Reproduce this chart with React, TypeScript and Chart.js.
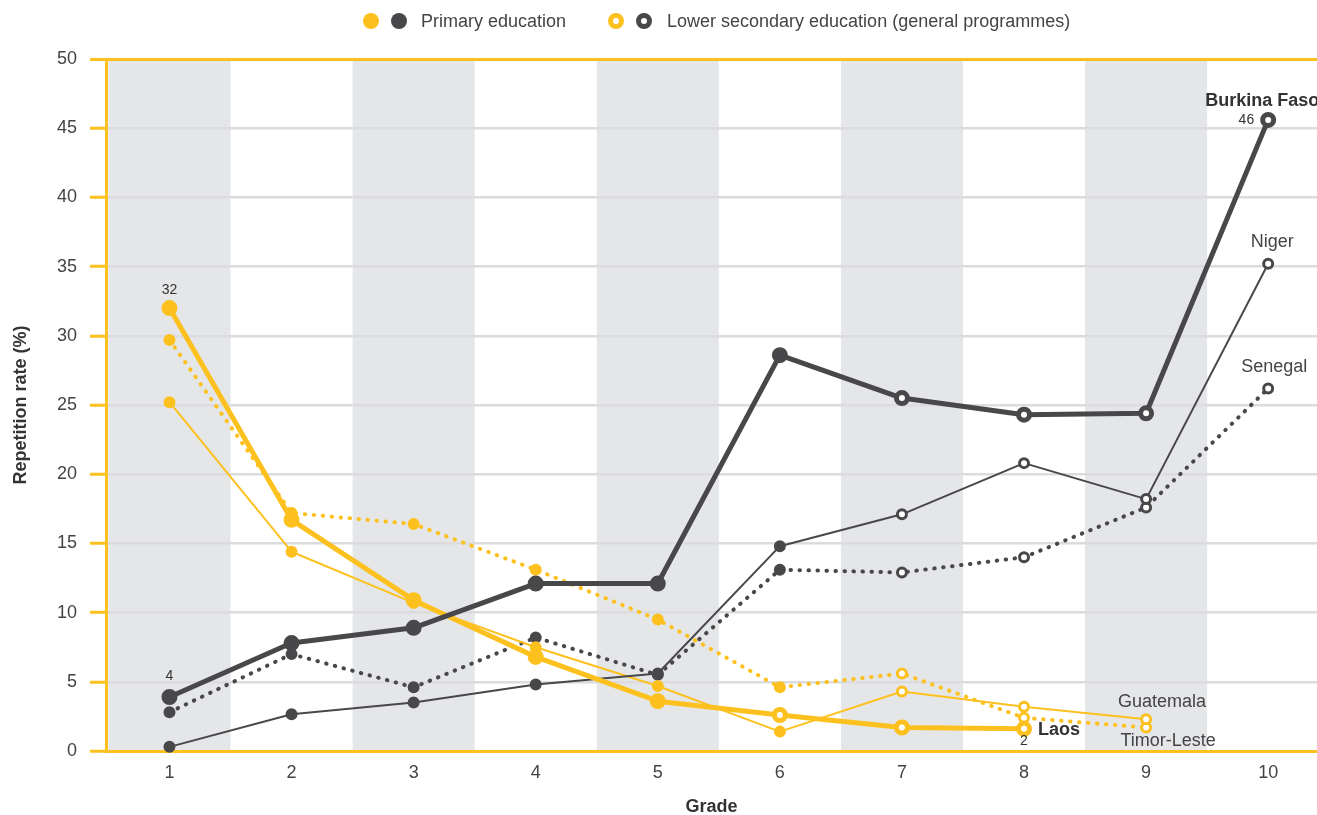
import React, { useEffect, useRef } from 'react';
import { Chart, registerables } from 'chart.js';

Chart.register(...registerables);

// ---- data ----
const grades = [1, 2, 3, 4, 5, 6, 7, 8, 9, 10];
const gradeLabels = ['1', '2', '3', '4', '5', '6', '7', '8', '9', '10'];
const bandGrades = [1, 3, 5, 7, 9];

const laos = [32.0, 16.7, 10.9, 6.8, 3.6, 2.6, 1.7, 1.6];
const guatemala = [25.2, 14.4, 10.7, 7.5, 4.7, 1.4, 4.3, 3.2, 2.3];
const timorLeste = [29.7, 17.2, 16.4, 13.1, 9.5, 4.6, 5.6, 2.4, 1.7];
const burkinaFaso = [3.9, 7.8, 8.9, 12.1, 12.1, 28.6, 25.5, 24.3, 24.4, 45.6];
const niger = [0.3, 2.65, 3.5, 4.8, 5.6, 14.8, 17.1, 20.8, 18.2, 35.2];
const senegal = [2.8, 7.0, 4.6, 8.2, 5.5, 13.1, 12.9, 14.0, 17.6, 26.2];

// index of first lower-secondary grade per country
const laosSecondaryFrom = 5;
const otherSecondaryFrom = 6;

const legendLabels = ['Primary education', 'Lower secondary education (general programmes)'];

const YELLOW = '#FDC11F';
const DARK = '#48484A';
const TEXT = '#444446';
const FONT = "'Liberation Sans', Arial, sans-serif";

type Kind = 'thick' | 'thin' | 'dotted';

function makeDataset(label: string, values: number[], color: string, kind: Kind, secondaryFrom: number) {
  const data = values.map((v, i) => ({ x: grades[i], y: v }));
  const thick = kind === 'thick';
  const dotted = kind === 'dotted';
  const r = thick ? 5.5 : 4.5;
  const bw = thick ? 5 : 3;
  return {
    label,
    data,
    borderColor: color,
    borderWidth: thick ? 5 : dotted ? 4 : 2,
    borderDash: dotted ? [0.5, 8.5] : [],
    borderCapStyle: dotted ? 'round' : 'butt',
    borderJoinStyle: 'round',
    pointRadius: r,
    pointHoverRadius: r,
    pointBorderWidth: bw,
    pointHoverBorderWidth: bw,
    pointBackgroundColor: data.map((_, i) => (i >= secondaryFrom ? '#ffffff' : color)),
    pointBorderColor: color,
    tension: 0,
    fill: false,
    clip: false as any,
  };
}

const bandsPlugin = {
  id: 'bands',
  beforeDraw(chart: any) {
    const { ctx, chartArea, scales } = chart;
    const x = scales.x;
    ctx.save();
    ctx.fillStyle = '#E5E6E8';
    bandGrades.forEach((g) => {
      const x0 = Math.max(x.getPixelForValue(g - 0.5), chartArea.left + 1);
      const x1 = x.getPixelForValue(g + 0.5);
      ctx.fillRect(x0, chartArea.top, x1 - x0, chartArea.bottom - chartArea.top);
    });
    ctx.restore();
  },
};

const labelsPlugin = {
  id: 'labels',
  afterDatasetsDraw(chart: any) {
    const { ctx, scales } = chart;
    const px = (g: number) => scales.x.getPixelForValue(g);
    const py = (v: number) => scales.y.getPixelForValue(v);
    const put = (text: string, x: number, y: number, font: string, align: CanvasTextAlign, color = TEXT) => {
      ctx.font = font;
      ctx.fillStyle = color;
      ctx.textAlign = align;
      ctx.textBaseline = 'middle';
      ctx.fillText(text, x, y);
    };
    ctx.save();
    const small = `14px ${FONT}`;
    const reg = `18px ${FONT}`;
    const bold = `bold 18px ${FONT}`;
    const bf10 = burkinaFaso[9];
    put(String(Math.round(laos[0])), px(1), py(laos[0]) - 18, small, 'center', '#333');
    put(String(Math.round(burkinaFaso[0])), px(1), py(burkinaFaso[0]) - 21, small, 'center', '#333');
    put(String(Math.round(bf10)), px(10) - 14, py(bf10), small, 'right', '#333');
    put('Burkina Faso', px(10) - 63, py(bf10) - 19, bold, 'left', '#333');
    put('Niger', px(10) + 4, py(niger[9]) - 22, reg, 'center');
    put('Senegal', px(10) + 6, py(senegal[9]) - 21, reg, 'center');
    put('Guatemala', px(9) + 16, py(guatemala[8]) - 17, reg, 'center');
    put('Timor-Leste', px(9) + 22, py(timorLeste[8]) + 14, reg, 'center');
    put('Laos', px(8) + 14, py(laos[7]) + 1, bold, 'left', '#333');
    put(String(Math.round(laos[7])), px(8), py(laos[7]) + 12, small, 'center', '#333');
    ctx.restore();
  },
};

const legendPlugin = {
  id: 'customLegend',
  afterDraw(chart: any) {
    const { ctx } = chart;
    const cy = 21;
    ctx.save();
    const dot = (x: number, color: string, hollow: boolean) => {
      ctx.beginPath();
      if (hollow) {
        ctx.arc(x, cy, 5.5, 0, Math.PI * 2);
        ctx.fillStyle = '#fff';
        ctx.fill();
        ctx.lineWidth = 5;
        ctx.strokeStyle = color;
        ctx.stroke();
      } else {
        ctx.arc(x, cy, 8, 0, Math.PI * 2);
        ctx.fillStyle = color;
        ctx.fill();
      }
    };
    dot(371, YELLOW, false);
    dot(399, DARK, false);
    dot(616, YELLOW, true);
    dot(644, DARK, true);
    ctx.font = `18px ${FONT}`;
    ctx.fillStyle = TEXT;
    ctx.textAlign = 'left';
    ctx.textBaseline = 'middle';
    ctx.fillText(legendLabels[0], 421, cy + 1);
    ctx.fillText(legendLabels[1], 667, cy + 1);
    ctx.restore();
  },
};

export default function App() {
  const ref = useRef<HTMLCanvasElement | null>(null);

  useEffect(() => {
    if (!ref.current) return;
    const datasets = [
      makeDataset('Burkina Faso', burkinaFaso, DARK, 'thick', otherSecondaryFrom),
      makeDataset('Laos', laos, YELLOW, 'thick', laosSecondaryFrom),
      makeDataset('Niger', niger, DARK, 'thin', otherSecondaryFrom),
      makeDataset('Guatemala', guatemala, YELLOW, 'thin', otherSecondaryFrom),
      makeDataset('Senegal', senegal, DARK, 'dotted', otherSecondaryFrom),
      makeDataset('Timor-Leste', timorLeste, YELLOW, 'dotted', otherSecondaryFrom),
    ];
    const chart = new Chart(ref.current, {
      type: 'line',
      data: { datasets: datasets as any },
      plugins: [bandsPlugin, labelsPlugin, legendPlugin],
      options: {
        animation: false,
        responsive: false,
        maintainAspectRatio: false,
        layout: { autoPadding: false, padding: { top: 59, left: 0, right: 0, bottom: 0 } },
        plugins: { legend: { display: false }, tooltip: { enabled: false } },
        scales: {
          x: {
            type: 'linear',
            min: 0.48,
            max: 10.4,
            afterBuildTicks: (s: any) => {
              s.ticks = grades.map((g) => ({ value: g }));
            },
            afterFit: (s: any) => {
              s.height = 64;
              s.paddingLeft = 0;
              s.paddingRight = 0;
            },
            ticks: {
              autoSkip: false,
              maxRotation: 0,
              padding: 11,
              color: TEXT,
              font: { family: FONT, size: 18 },
              callback: (v: any) => gradeLabels[grades.indexOf(Number(v))] ?? '',
            },
            grid: { display: false, drawTicks: false },
            border: { display: true, color: YELLOW, width: 3 },
            title: {
              display: true,
              text: 'Grade',
              color: '#333',
              font: { family: FONT, size: 18, weight: 'bold', lineHeight: 1 },
              padding: { top: 0, bottom: -1 },
            },
          },
          y: {
            type: 'linear',
            min: 0,
            max: 50,
            afterFit: (s: any) => {
              s.width = 106;
              s.paddingTop = 0;
              s.paddingBottom = 0;
            },
            ticks: {
              stepSize: 5,
              padding: 13,
              color: TEXT,
              font: { family: FONT, size: 18 },
            },
            grid: {
              color: (c: any) => (c.tick && (c.tick.value === 50 || c.tick.value === 0) ? YELLOW : '#DCDCDE'),
              lineWidth: (c: any) => (c.tick && c.tick.value === 50 ? 3 : 2.5),
              tickColor: YELLOW,
              tickLength: 16,
              tickWidth: 3,
              drawTicks: true,
            },
            border: { display: true, color: YELLOW, width: 3 },
            title: {
              display: true,
              text: 'Repetition rate (%)',
              color: '#333',
              font: { family: FONT, size: 18, weight: 'bold', lineHeight: 1.2 },
              padding: { top: 10, bottom: 0 },
            },
          },
        },
      } as any,
    });
    return () => chart.destroy();
  }, []);

  return (
    <div style={{ position: 'fixed', left: 0, top: 0, width: 1317, height: 815, background: '#fff' }}>
      <canvas ref={ref} width={1317} height={815} style={{ width: 1317, height: 815, display: 'block' }} />
    </div>
  );
}
